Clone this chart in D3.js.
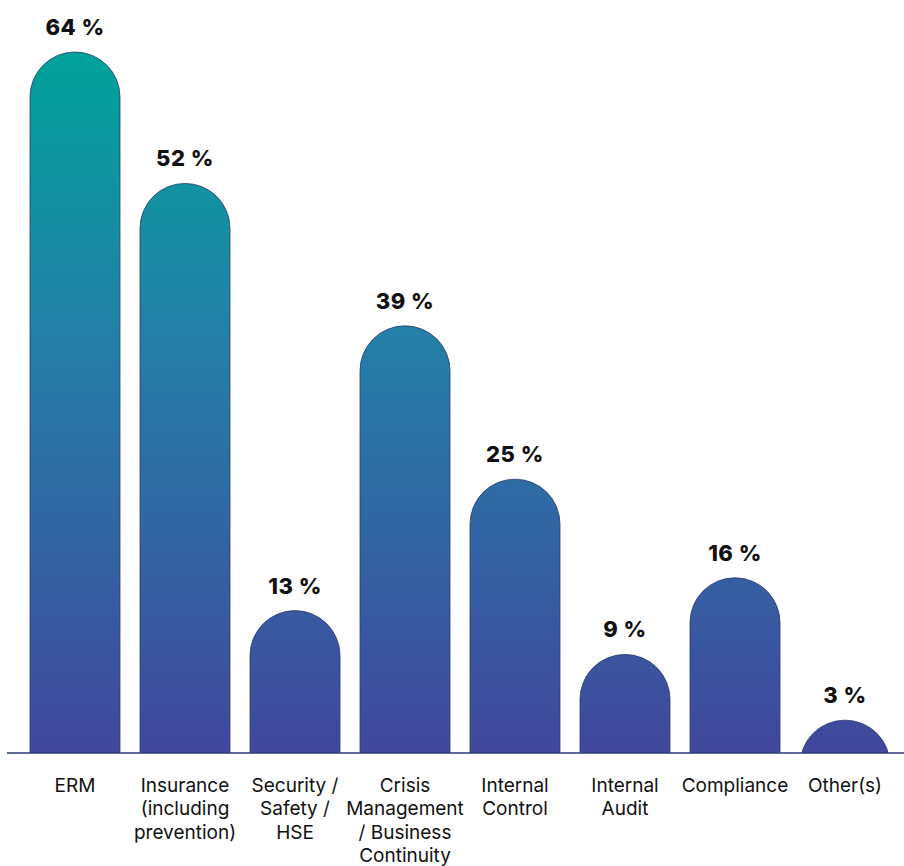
<!DOCTYPE html>
<html lang="en">
<head>
<meta charset="utf-8">
<title>Risk functions</title>
<script src="https://cdn.jsdelivr.net/npm/d3@7"></script>
<style>
  body { margin: 0; background: #fff; }
  text { font-family: Inter, "Noto Sans", sans-serif; }
</style>
</head>
<body>
<script>
// data
var categories = ["ERM", "Insurance (including prevention)", "Security / Safety / HSE",
  "Crisis Management / Business Continuity", "Internal Control", "Internal Audit",
  "Compliance", "Other(s)"];
var labelLines = [["ERM"], ["Insurance", "(including", "prevention)"], ["Security /", "Safety /", "HSE"],
  ["Crisis", "Management", "/ Business", "Continuity"], ["Internal", "Control"], ["Internal", "Audit"],
  ["Compliance"], ["Other(s)"]];
var values = [64, 52, 13, 39, 25, 9, 16, 3];

var w = 904, h = 866;
var base = 753;

var svg = d3.select("body").append("svg")
  .attr("width", w)
  .attr("height", h);

var x = d3.scaleBand()
  .domain(categories)
  .range([20, 900])
  .paddingInner(2 / 11)
  .paddingOuter(1 / 11);

var y = d3.scaleLinear()
  .domain([0, 64])
  .range([base, 52]);

var defs = svg.append("defs");
var grad = defs.append("linearGradient")
  .attr("id", "barGrad")
  .attr("gradientUnits", "userSpaceOnUse")
  .attr("x1", 0).attr("y1", y(64))
  .attr("x2", 0).attr("y2", base);
grad.append("stop").attr("offset", "0%").attr("stop-color", "#00a29a");
grad.append("stop").attr("offset", "40%").attr("stop-color", "#2380a8");
grad.append("stop").attr("offset", "100%").attr("stop-color", "#41479d");

defs.append("clipPath").attr("id", "plotClip")
  .append("rect").attr("x", 0).attr("y", 0).attr("width", w).attr("height", base);

// bar with a half round top
function barPath(d) {
  var bw = x.bandwidth(), r = bw / 2;
  var x0 = x(d.cat), top = y(d.val);
  var cy = top + r;
  return "M" + x0 + "," + (Math.max(cy, base) + 2) +
    "L" + x0 + "," + cy +
    "A" + r + "," + r + " 0 0 1 " + (x0 + bw) + "," + cy +
    "L" + (x0 + bw) + "," + (Math.max(cy, base) + 2) + "Z";
}

var data = categories.map(function(c, i) { return { cat: c, val: values[i], lines: labelLines[i] }; });

svg.append("g")
  .attr("clip-path", "url(#plotClip)")
  .selectAll("path")
  .data(data)
  .enter()
  .append("path")
  .attr("d", barPath)
  .attr("fill", "url(#barGrad)")
  .attr("stroke", "#2c3a6e")
  .attr("stroke-width", 0.8);

// baseline
svg.append("line")
  .attr("x1", 7).attr("x2", w)
  .attr("y1", base).attr("y2", base)
  .attr("stroke", "#2c3a78")
  .attr("stroke-width", 1.5);

// value labels
svg.selectAll("text.val")
  .data(data)
  .enter()
  .append("text")
  .attr("class", "val")
  .attr("x", function(d) { return x(d.cat) + x.bandwidth() / 2; })
  .attr("y", function(d) { return y(d.val) - 17; })
  .attr("text-anchor", "middle")
  .attr("font-size", "22px")
  .attr("font-weight", "800")
  .attr("letter-spacing", "0.5px")
  .attr("fill", "#111")
  .text(function(d) { return d.val + " %"; });

// category labels
var cat = svg.selectAll("text.cat")
  .data(data)
  .enter()
  .append("text")
  .attr("class", "cat")
  .attr("text-anchor", "middle")
  .attr("font-size", "19px")
  .attr("fill", "#111");

cat.selectAll("tspan")
  .data(function(d) { return d.lines.map(function(l) { return { l: l, cx: x(d.cat) + x.bandwidth() / 2 }; }); })
  .enter()
  .append("tspan")
  .attr("x", function(d) { return d.cx; })
  .attr("y", function(d, i) { return 792 + i * 23.4; })
  .text(function(d) { return d.l; });
</script>
</body>
</html>
